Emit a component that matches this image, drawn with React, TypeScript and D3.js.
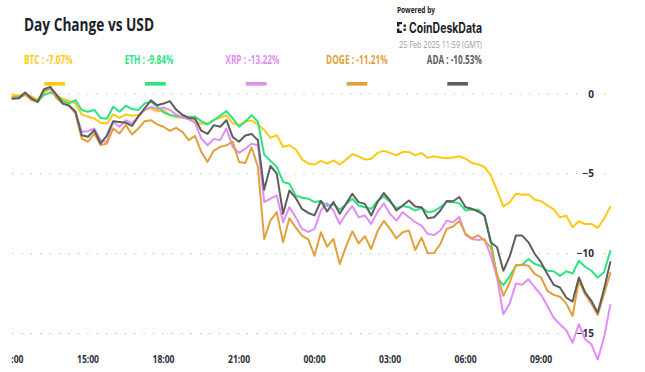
import React from "react";
import * as d3 from "d3";

const seriesNames = ["BTC", "ETH", "XRP", "DOGE", "ADA"];
const seriesChanges = ["-7.07%", "-9.84%", "-13.22%", "-11.21%", "-10.53%"];
const seriesColors = ["#FFC913", "#2EE282", "#E08EF6", "#E2A03A", "#5E5E5E"];

const btc = [-0.05, -0.1, 0.0, -0.15, -0.35, 0.1, 0.35, -0.1, -0.3, -0.44, -0.59, -1.28, -1.42, -1.53, -1.8, -1.85, -1.28, -1.5, -1.28, -1.36, -1.32, -1.0, -0.9, -1.1,
  -1.0, -1.32, -1.45, -1.49, -1.53, -1.7, -1.87, -1.84, -1.62, -1.49, -1.32, -1.84, -1.95, -1.7, -1.66, -1.91, -2.26, -2.75, -2.58, -3.31, -3.21, -3.46, -4.09, -4.35,
  -4.42, -4.19, -4.36, -4.15, -4.42, -4.11, -3.77, -3.9, -4.11, -4.05, -3.69, -3.56, -3.69, -3.84, -3.63, -3.63, -3.84, -3.69, -4.0, -3.9, -3.98, -4.02, -3.98, -3.9,
  -4.05, -4.32, -4.4, -4.57, -5.09, -6.04, -7.04, -6.79, -6.25, -6.31, -6.29, -6.62, -6.71, -6.98, -7.23, -7.72, -7.63, -8.35, -7.97, -8.14, -8.14, -8.39, -7.82, -7.07];
const eth = [-0.23, -0.17, -0.06, -0.27, -0.48, -0.06, 0.1, -0.06, -0.44, -0.59, -0.38, -1.0, -1.11, -1.0, -1.5, -1.55, -0.8, -1.11, -0.73, -0.94, -1.0, -0.59, -0.48, -0.8,
  -1.15, -1.32, -1.38, -1.42, -1.42, -1.42, -1.7, -1.91, -1.64, -1.36, -1.07, -1.53, -2.05, -1.74, -1.32, -1.74, -3.8, -4.2, -4.57, -5.51, -5.62, -6.35, -6.5, -6.56,
  -6.77, -6.7, -7.0, -6.9, -7.23, -6.9, -6.56, -6.98, -7.09, -7.19, -6.7, -6.41, -6.77, -7.15, -7.02, -7.09, -7.3, -7.13, -7.4, -7.34, -7.09, -6.77, -6.77, -6.85,
  -7.3, -7.23, -7.25, -7.61, -9.18, -11.49, -11.97, -11.43, -10.75, -10.69, -10.34, -10.65, -10.77, -11.07, -11.1, -11.39, -11.1, -11.24, -10.44, -10.82, -11.07, -11.49, -11.17, -9.84];
const xrp = [-0.23, -0.27, 0.03, -0.31, -0.48, 0.19, 0.36, -0.17, -0.59, -0.73, -1.11, -2.37, -2.33, -2.16, -2.9, -3.0, -1.74, -2.05, -1.64, -1.84, -1.42, -1.0, -0.8, -0.95,
  -0.84, -1.0, -1.28, -1.47, -1.59, -1.8, -2.79, -3.21, -2.81, -2.89, -2.16, -3.31, -3.69, -3.42, -3.12, -3.21, -6.77, -6.56, -6.35, -8.03, -7.09, -7.71, -8.45, -8.64,
  -8.45, -7.3, -6.84, -7.3, -8.14, -7.51, -7.02, -7.72, -7.61, -8.14, -7.4, -6.84, -7.51, -7.93, -7.4, -7.72, -8.03, -8.24, -8.76, -8.83, -8.55, -7.93, -8.03, -7.7,
  -8.83, -9.08, -9.14, -9.08, -10.13, -11.49, -13.8, -13.13, -11.87, -11.95, -11.6, -12.12, -12.58, -13.28, -14.01, -14.42, -14.8, -15.58, -14.42, -15.36, -15.68, -16.63, -15.26, -13.22];
const doge = [-0.17, -0.27, -0.02, -0.38, -0.48, 0.15, 0.36, -0.27, -0.59, -0.73, -1.22, -2.79, -2.99, -2.47, -3.2, -3.1, -2.16, -2.47, -1.95, -2.54, -2.16, -1.7, -1.64, -1.9,
  -2.05, -2.31, -2.12, -2.37, -2.89, -2.62, -3.63, -4.25, -3.54, -3.31, -3.21, -2.99, -4.26, -4.32, -3.35, -4.57, -9.08, -7.92, -7.4, -9.29, -7.78, -8.35, -8.87, -9.1,
  -10.13, -8.66, -9.56, -9.08, -10.65, -9.56, -8.6, -9.35, -8.91, -9.71, -8.6, -7.95, -8.45, -9.04, -8.66, -8.55, -9.77, -9.0, -9.98, -9.96, -9.39, -8.45, -8.3, -7.95,
  -8.76, -9.04, -8.85, -9.18, -9.6, -11.28, -12.64, -11.82, -10.71, -10.69, -10.75, -11.28, -11.49, -12.33, -12.58, -12.7, -13.11, -13.9, -11.7, -12.54, -13.13, -13.84, -12.54, -11.21];
const ada = [-0.3, -0.27, 0.1, -0.27, -0.5, 0.3, 0.45, -0.05, -0.6, -0.73, -1.1, -2.58, -2.68, -2.26, -3.1, -2.6, -1.7, -1.75, -1.8, -2.0, -1.4, -0.9, -0.4, -0.7,
  -0.6, -0.45, -0.98, -1.3, -1.5, -1.53, -2.3, -2.5, -1.95, -2.05, -1.64, -2.7, -2.99, -2.6, -2.5, -2.9, -6.0, -4.5, -4.99, -7.5, -6.04, -6.5, -7.2, -7.45,
  -7.6, -6.7, -7.36, -6.77, -7.5, -6.88, -6.25, -6.77, -6.88, -7.61, -6.77, -6.2, -6.67, -7.3, -6.98, -6.67, -7.05, -7.09, -7.78, -7.72, -7.3, -6.7, -6.72, -6.45,
  -7.09, -7.19, -7.36, -7.61, -9.29, -9.6, -11.07, -10.19, -8.87, -8.87, -9.29, -10.02, -10.55, -11.28, -11.95, -12.12, -12.75, -13.0, -11.49, -12.43, -12.96, -13.7, -12.22, -10.53];

const seriesValues = [btc, eth, xrp, doge, ada];

const startTime = Date.UTC(2025, 1, 24, 12, 0);
const stepMinutes = 15;
const xTickLabels = ["12:00", "15:00", "18:00", "21:00", "00:00", "03:00", "06:00", "09:00"];
const yTicks = [0, -5, -10, -15];
const yTickLabels = ["0", "\u22125", "\u221210", "\u221215"];

const FONT = "'Open Sans', 'Noto Sans', sans-serif";

export default function App() {
  const W = 645;
  const H = 372;
  const x = d3
    .scaleUtc()
    .domain([new Date(startTime), new Date(startTime + 24 * 3600e3)])
    .range([12.5, 616.6]);
  const y = d3.scaleLinear().domain([0, -15]).range([94, 333.5]);
  const line = d3
    .line<number>()
    .x((_, i) => x(new Date(startTime + i * stepMinutes * 60e3)))
    .y((d) => y(d));

  const tickDates = xTickLabels.map((_, i) => new Date(startTime + i * 3 * 3600e3));
  const legendTextWidths = [48.7, 48.7, 54, 61.7, 55];

  return (
    <svg
      width={W}
      height={H}
      style={{ position: "absolute", left: 0, top: 0, background: "#fff" }}
      fontFamily={FONT}
    >
      <defs>
        <clipPath id="xclip">
          <rect x={11.5} y={0} width={W} height={H} />
        </clipPath>
      </defs>
      <rect width={W} height={H} fill="#fff" />

      {/* Title */}
      <text x={24} y={30.5} fontSize={18} fontWeight={700} fill="#1b1f29" textLength={130} lengthAdjust="spacingAndGlyphs">
        Day Change vs USD
      </text>

      {/* Branding */}
      <text x={397} y={12.5} fontSize={8.5} fontWeight={700} fill="#222" textLength={38} lengthAdjust="spacingAndGlyphs">
        Powered by
      </text>
      <g fill="#1b1f29">
        <rect x={397} y={22} width={2.4} height={4.5} />
        <rect x={397} y={28.5} width={2.4} height={4.5} />
        <rect x={397} y={22} width={5} height={2.2} />
        <rect x={397} y={30.8} width={5} height={2.2} />
        <rect x={403.5} y={24.5} width={2.4} height={2.4} />
        <rect x={403.5} y={28.5} width={2.4} height={2.4} />
      </g>
      <text x={409} y={32.5} fontSize={14} fontWeight={700} fill="#1b1f29" textLength={73} lengthAdjust="spacingAndGlyphs" fontFamily="Inter, 'Open Sans', sans-serif">
        CoinDeskData
      </text>
      <text x={399} y={47.5} fontSize={9.5} fill="#9a9a9a" textLength={83} lengthAdjust="spacingAndGlyphs">
        25 Feb 2025 11:59 (GMT)
      </text>

      {/* Legend */}
      {seriesNames.map((name, i) => (
        <g key={name}>
          <text
            x={24 + 100.7 * i}
            y={63.5}
            fontSize={11.5}
            fontWeight={700}
            fill={seriesColors[i]}
            textLength={legendTextWidths[i]}
            lengthAdjust="spacingAndGlyphs"
          >
            {`${name} : ${seriesChanges[i]}`}
          </text>
          <rect x={44.3 + 100.75 * i} y={82} width={20.7} height={3.6} fill={seriesColors[i]} />
        </g>
      ))}

      {/* Grid lines */}
      {yTicks.map((t) => (
        <line
          key={t}
          x1={12}
          x2={608}
          y1={y(t)}
          y2={y(t)}
          stroke="#b5b5b5"
          strokeWidth={1}
          strokeDasharray="1.2,8.2"
        />
      ))}

      {/* Y labels (under the lines) */}
      {yTicks.map((t, i) => (
        <text
          key={t}
          x={594}
          y={y(t)}
          dy="0.35em"
          textAnchor="end"
          fontSize={10}
          fontWeight={700}
          fill="#2a2e38"
          stroke="#fff"
          strokeWidth={5}
          paintOrder="stroke"
          strokeLinejoin="round"
        >
          {yTickLabels[i]}
        </text>
      ))}

      {/* Series lines */}
      {seriesValues.map((vals, i) => (
        <path
          key={seriesNames[i]}
          d={line(vals) || ""}
          fill="none"
          stroke={seriesColors[i]}
          strokeWidth={2}
          strokeLinejoin="round"
          strokeLinecap="round"
        />
      ))}

      {/* X labels */}
      <g clipPath="url(#xclip)">
        {xTickLabels.map((lab, i) => (
          <text
            key={lab}
            x={x(tickDates[i])}
            y={362.5}
            textAnchor="middle"
            fontSize={10.5}
            fontWeight={700}
            fill="#2a2e38"
            textLength={22}
            lengthAdjust="spacingAndGlyphs"
          >
            {lab}
          </text>
        ))}
      </g>
    </svg>
  );
}
